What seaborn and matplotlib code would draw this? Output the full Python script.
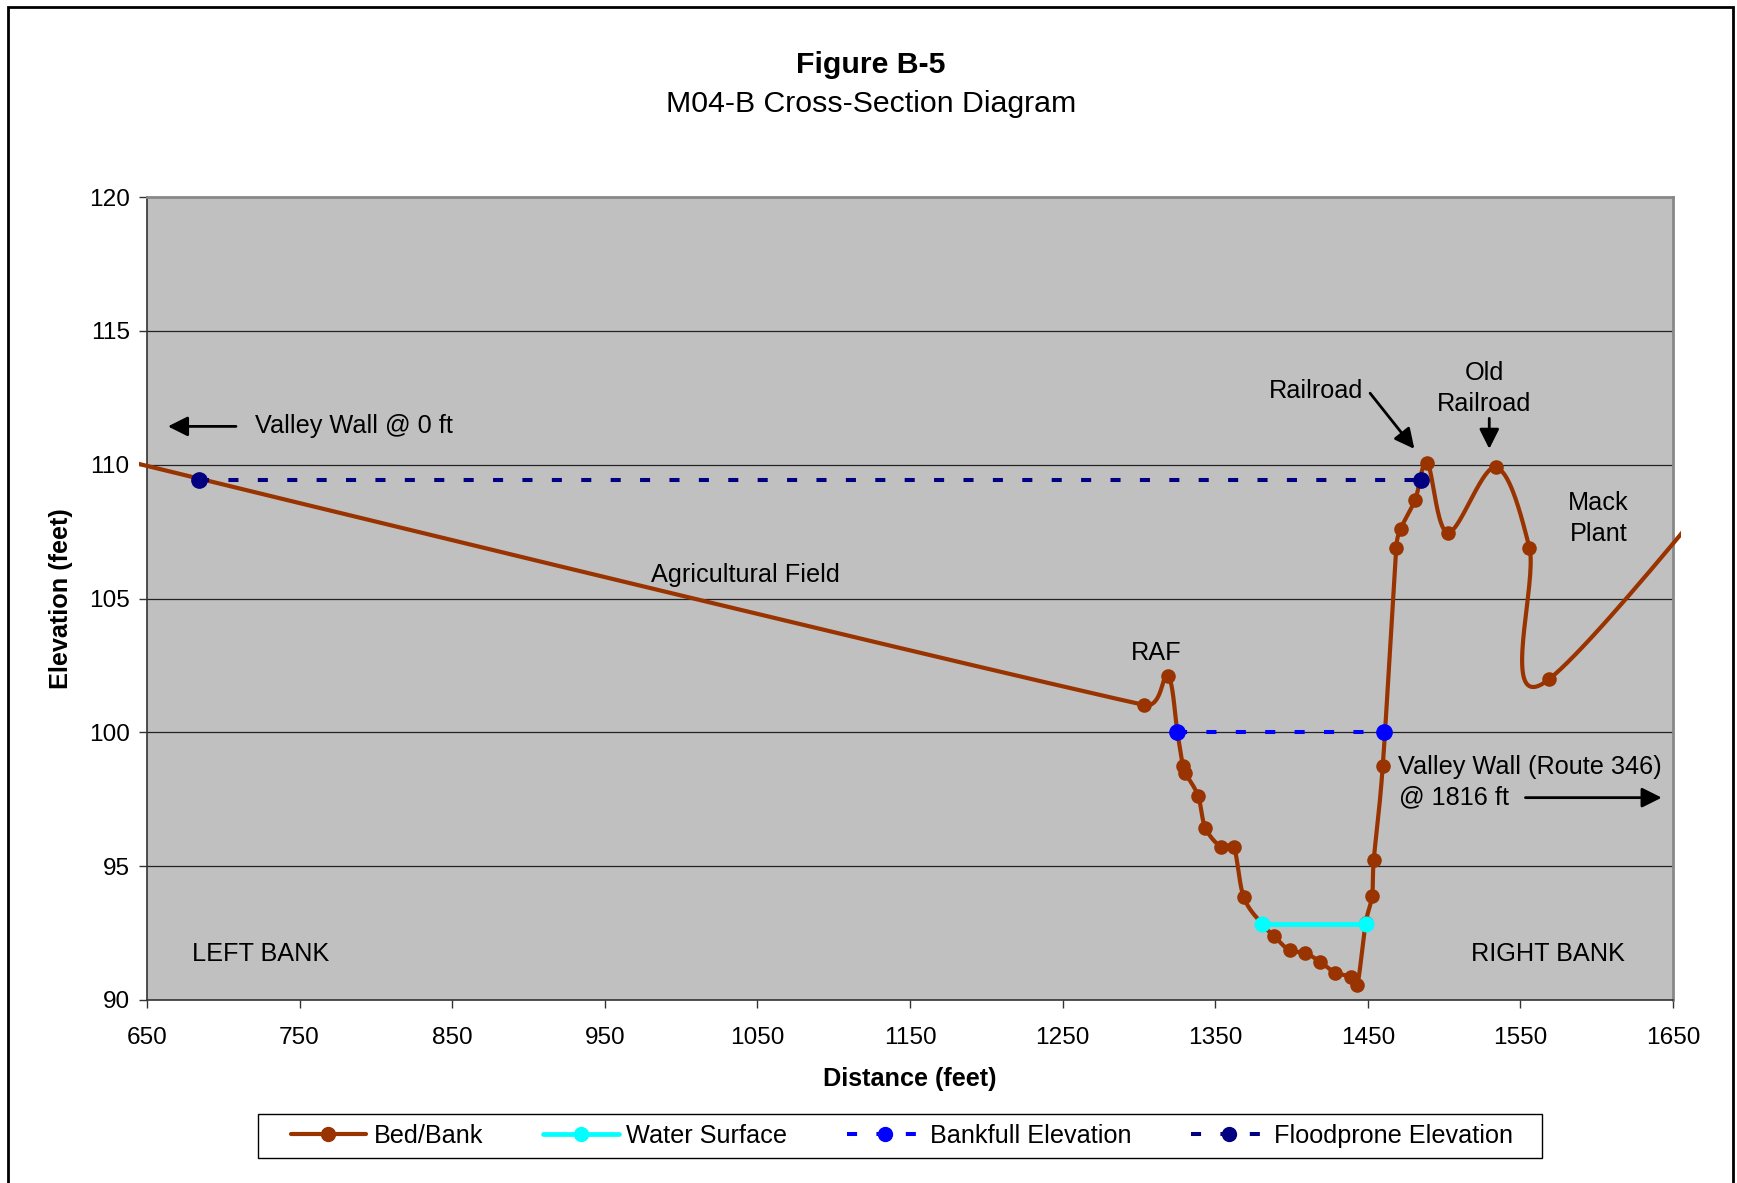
import numpy as np
import pandas as pd
import seaborn as sns
import matplotlib.pyplot as plt
from matplotlib.lines import Line2D
from matplotlib.patches import Rectangle

# surveyed points (distance ft, elevation ft)
bed_x = [0, 1303.5, 1318.9, 1325.2, 1328.7, 1330.2, 1338.7, 1343.5, 1353.6, 1362.1,
         1368.7, 1380.9, 1388.5, 1398.8, 1408.6, 1418.7, 1428.7, 1438.8, 1443.1, 1448.6,
         1452.8, 1453.9, 1459.8, 1468.7, 1471.5, 1481.0, 1489.0, 1502.6, 1533.8, 1555.9,
         1568.7, 1816]
bed_y = [119.0, 101.02, 102.12, 100.0, 98.74, 98.49, 97.64, 96.44, 95.73, 95.73,
         93.84, 92.83, 92.39, 91.85, 91.77, 91.43, 91.02, 90.87, 90.56, 92.87,
         93.89, 95.23, 98.74, 106.90, 107.60, 108.68, 110.05, 107.46, 109.90, 106.90,
         101.98, 118.7]
water_x = [1380.9, 1448.6]
water_y = [92.85, 92.85]
bankfull_x = [1325.2, 1460.8]
bankfull_y = [100.0, 100.0]
floodprone_x = [684.3, 1485.1]
floodprone_y = [109.44, 109.44]

x_ticks = [650, 750, 850, 950, 1050, 1150, 1250, 1350, 1450, 1550, 1650]
y_ticks = [90, 95, 100, 105, 110, 115, 120]

BED = '#993300'
WATER = '#00FFFF'
BANKFULL = '#0000FF'
FLOOD = '#000080'

sns.set_theme(style='white')
plt.rcParams['font.family'] = ['Liberation Sans', 'DejaVu Sans']
plt.rcParams['text.color'] = 'black'
plt.rcParams['axes.labelcolor'] = 'black'
plt.rcParams['xtick.color'] = 'black'
plt.rcParams['ytick.color'] = 'black'

W, H = 1737, 1183
fig = plt.figure(figsize=(W / 100, H / 100), dpi=100)
ax = fig.add_axes([147 / W, 1 - 1000 / H, (1673 - 147) / W, (1000 - 197) / H])
ax.set_facecolor('#C0C0C0')
ax.set_xlim(650, 1650)
ax.set_ylim(90, 120)


def excel_smooth(ax, xs, ys, n=40):
    # bezier smoothing like Excel's "smoothed line", done in pixel space
    pts = ax.transData.transform(np.column_stack([xs, ys]))
    m = len(pts)
    out = [pts[0]]
    for i in range(m - 1):
        p0 = pts[max(i - 1, 0)]
        p1 = pts[i]
        p2 = pts[i + 1]
        p3 = pts[min(i + 2, m - 1)]
        d12 = np.hypot(*(p2 - p1))
        tans = []
        for t in ((p2 - p0) / 6, (p3 - p1) / 6):
            nt = np.hypot(*t)
            if nt > d12 / 2 and nt > 0:
                t = t * (d12 / 2) / nt
            tans.append(t)
        c1 = p1 + tans[0]
        c2 = p2 - tans[1]
        tt = np.linspace(0, 1, n)[1:, None]
        seg = (1 - tt) ** 3 * p1 + 3 * (1 - tt) ** 2 * tt * c1 + 3 * (1 - tt) * tt ** 2 * c2 + tt ** 3 * p2
        out.extend(seg)
    return ax.transData.inverted().transform(np.array(out))


for y in y_ticks[1:-1]:
    ax.axhline(y, color='#222222', lw=0.9, zorder=1)

smooth = excel_smooth(ax, bed_x, bed_y)
df_smooth = pd.DataFrame({'x': smooth[:, 0], 'y': smooth[:, 1]})
sns.lineplot(data=df_smooth, x='x', y='y', sort=False, estimator=None, color=BED, lw=3.0, ax=ax, zorder=3)
# Excel lets the line run a hair past the plot area
ax.lines[-1].set_clip_path(Rectangle((-0.005, 0), 1.01, 1, transform=ax.transAxes))
df_bed = pd.DataFrame({'x': bed_x, 'y': bed_y})
sns.scatterplot(data=df_bed, x='x', y='y', color=BED, s=110, edgecolor=BED, linewidth=0, ax=ax, zorder=4)

ax.plot(water_x, water_y, color=WATER, lw=3.4, marker='o', ms=10.5, zorder=5)
ax.plot(bankfull_x, bankfull_y, color=BANKFULL, lw=2.9, dashes=(2.5, 4.8), dash_capstyle='butt',
        marker='o', ms=11, zorder=5)
ax.plot(floodprone_x, floodprone_y, color=FLOOD, lw=2.9, dashes=(2.5, 4.8), dash_capstyle='butt',
        marker='o', ms=11, zorder=5)

fs = 18.2
tfs = 17.6
arrow = dict(arrowstyle='-|>,head_length=0.6,head_width=0.3', color='black', lw=2, mutation_scale=20,
             shrinkA=0, shrinkB=0)
ax.text(720.6, 111.43, 'Valley Wall @ 0 ft', fontsize=fs, ha='left', va='center')
ax.annotate('', xy=(663.7, 111.43), xytext=(708.3, 111.43), arrowprops=arrow)
ax.text(1042.2, 105.88, 'Agricultural Field', fontsize=fs, ha='center', va='center')
ax.text(1311.5, 102.98, 'RAF', fontsize=fs, ha='center', va='center')
ax.text(1416.1, 112.75, 'Railroad', fontsize=fs, ha='center', va='center')
ax.annotate('', xy=(1480.5, 110.59), xytext=(1451.5, 112.67), arrowprops=arrow)
ax.text(1526.2, 112.85, 'Old\nRailroad', fontsize=fs, ha='center', va='center', linespacing=1.35)
ax.annotate('', xy=(1529.6, 110.59), xytext=(1529.6, 111.73), arrowprops=arrow)
ax.text(1601.2, 108.0, 'Mack\nPlant', fontsize=fs, ha='center', va='center', linespacing=1.35)
ax.text(1469.8, 98.72, 'Valley Wall (Route 346)', fontsize=fs, ha='left', va='center')
ax.text(1470.6, 97.56, '@ 1816 ft', fontsize=fs, ha='left', va='center')
ax.annotate('', xy=(1642.6, 97.56), xytext=(1553.3, 97.56), arrowprops=arrow)
ax.text(679.3, 91.73, 'LEFT BANK', fontsize=fs, ha='left', va='center')
ax.text(1517.8, 91.73, 'RIGHT BANK', fontsize=fs, ha='left', va='center')

ax.set_xticks(x_ticks)
ax.set_yticks(y_ticks)
ax.tick_params(axis='both', which='major', labelsize=tfs, direction='out', length=5.5, width=1,
               color='#333333', left=True, bottom=True)
ax.tick_params(axis='x', pad=14)
ax.tick_params(axis='y', pad=7)
ax.set_xlabel('Distance (feet)', fontsize=fs, fontweight='bold', labelpad=13)
ax.set_ylabel('Elevation (feet)', fontsize=fs, fontweight='bold', labelpad=11)
for side in ['left', 'bottom']:
    ax.spines[side].set_color('#333333')
    ax.spines[side].set_linewidth(1.2)
for side in ['top', 'right']:
    ax.spines[side].set_color('#888888')
    ax.spines[side].set_linewidth(2)

fig.text(871 / W, 1 - 65 / H, 'Figure B-5', fontsize=21.8, fontweight='bold', ha='center', va='center')
fig.text(871 / W, 1 - 104 / H, 'M04-B Cross-Section Diagram', fontsize=21.8, ha='center', va='center')

handles = [
    Line2D([], [], color=BED, lw=3.0, marker='o', ms=10),
    Line2D([], [], color=WATER, lw=3.4, marker='o', ms=10),
    Line2D([], [], color=BANKFULL, lw=2.9, dashes=(2.5, 4.8), marker='o', ms=10),
    Line2D([], [], color=FLOOD, lw=2.9, dashes=(2.5, 4.8), marker='o', ms=10),
]
labels = ['Bed/Bank', 'Water Surface', 'Bankfull Elevation', 'Floodprone Elevation']
leg = fig.legend(handles, labels, loc='center', bbox_to_anchor=(902 / W, 1 - 1136 / H), ncol=4,
                 fontsize=fs, frameon=False, handlelength=3.0,
                 columnspacing=2.35, handletextpad=0.3)
# legend box drawn separately so its padding can be wider than the entries
fig.patches.append(Rectangle((258 / W, 1 - 1158 / H), (1542 - 258) / W, 44 / H, transform=fig.transFigure,
                             fill=True, facecolor='white', edgecolor='black', lw=1.0, zorder=0))

fig.patches.append(Rectangle((8 / W, -0.02), (1733 - 8) / W, 1.02 - 7 / H, transform=fig.transFigure,
                             fill=False, edgecolor='black', lw=2))

fig.savefig('out.png', dpi=100)
